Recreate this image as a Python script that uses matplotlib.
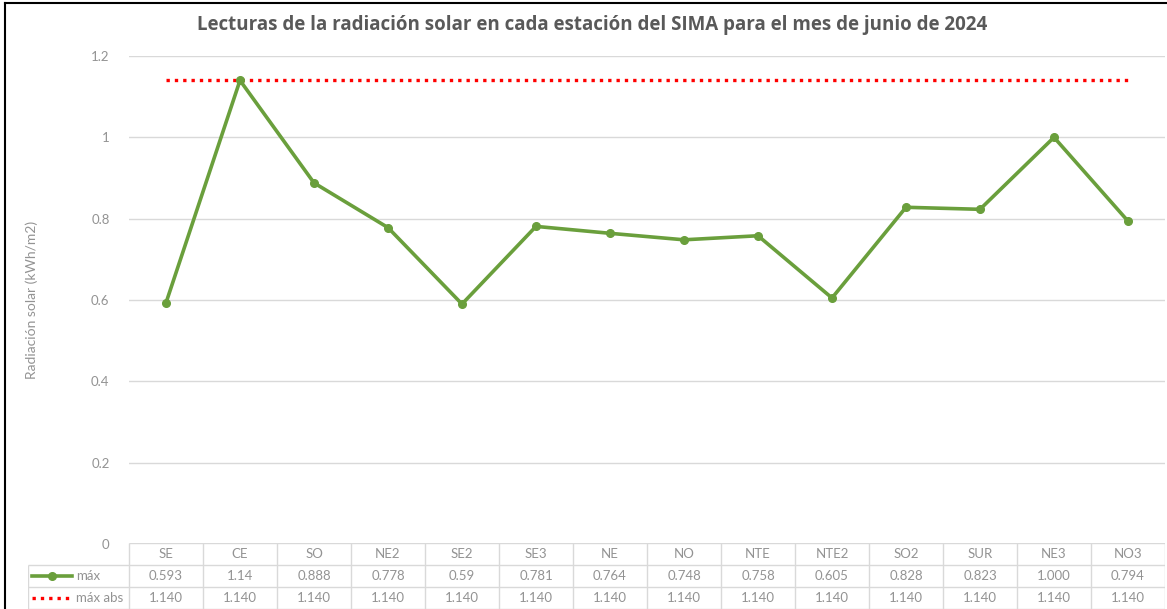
import matplotlib
matplotlib.use("Agg")
import matplotlib.pyplot as plt
from matplotlib.lines import Line2D

categories = ["SE", "CE", "SO", "NE2", "SE2", "SE3", "NE", "NO", "NTE", "NTE2", "SO2", "SUR", "NE3", "NO3"]
max_vals = [0.593, 1.14, 0.888, 0.778, 0.59, 0.781, 0.764, 0.748, 0.758, 0.605, 0.828, 0.823, 1.000, 0.794]
max_labels = ["0.593", "1.14", "0.888", "0.778", "0.59", "0.781", "0.764", "0.748", "0.758", "0.605", "0.828", "0.823", "1.000", "0.794"]
abs_vals = [1.140] * 14
abs_labels = ["1.140"] * 14
yticks = [0, 0.2, 0.4, 0.6, 0.8, 1.0, 1.2]
ytick_labels = ["0", "0.2", "0.4", "0.6", "0.8", "1", "1.2"]

plt.rcParams['font.family'] = ['Lato', 'DejaVu Sans']
W, H = 1167, 609
fig = plt.figure(figsize=(W / 100, H / 100), dpi=100)

GREEN = "#6A9F3C"
RED = "#FF0000"
GRID = "#D9D9D9"
TXT = "#939393"

def fx(px):
    return px / W

def fy(py):
    return 1 - py / H

# main plot
left, right, top, bottom = 129, 1165, 56, 544
ax = fig.add_axes([fx(left), fy(bottom), fx(right - left), fy(top) - fy(bottom)])
x = list(range(len(categories)))
ax.set_xlim(-0.5, len(categories) - 0.5)
ax.set_ylim(0, 1.2)
ax.set_yticks(yticks)
ax.set_yticklabels(ytick_labels)
ax.set_xticks([])
for s in ax.spines.values():
    s.set_visible(False)
ax.grid(axis='y', color=GRID, linewidth=1)
ax.set_axisbelow(True)
ax.tick_params(axis='y', length=0, pad=14, labelcolor=TXT, labelsize=9.5)
ax.plot(x, abs_vals, linestyle=(0, (1, 1.5)), color=RED, linewidth=2.4, zorder=3)
ax.plot(x, max_vals, color=GREEN, linewidth=2.6, marker='o', markersize=5.5, zorder=4, clip_on=False)

fig.text(fx(32), fy(300), "Radiación solar (kWh/m2)", rotation=90, ha='center', va='center',
         color=TXT, fontsize=10)
fig.text(fx(592), fy(25), "Lecturas de la radiación solar en cada estación del SIMA para el mes de junio de 2024",
         ha='center', va='center', color="#595959", fontsize=13.5, fontweight='bold',
         family=['Open Sans', 'DejaVu Sans'])

# data table
tleft, ttop, tbot = 28, 544, 610
unit = (right - left) / len(categories)
tax = fig.add_axes([fx(tleft), 0, fx(right - tleft), fy(ttop) - fy(tbot)])
tax.set_xlim(-0.5 - (left - tleft) / unit, len(categories) - 0.5)
tax.set_ylim(0, 3)
tax.axis('off')
x0 = -0.5 - (left - tleft) / unit
xe = len(categories) - 0.5
tax.hlines([3], -0.5, xe, color=GRID, linewidth=1)
tax.hlines([2, 1, 0], x0, xe, color=GRID, linewidth=1)
tax.vlines([x0], 0, 2, color=GRID, linewidth=1)
tax.vlines([i - 0.5 for i in range(len(categories) + 1)], 0, 3, color=GRID, linewidth=1)
for i, c in enumerate(categories):
    tax.text(i, 2.5, c, ha='center', va='center', color=TXT, fontsize=9.5)
    tax.text(i, 1.5, max_labels[i], ha='center', va='center', color=TXT, fontsize=9.5)
    tax.text(i, 0.5, abs_labels[i], ha='center', va='center', color=TXT, fontsize=9.5)
# legend keys
lx0 = x0 + 4 / unit
lx1 = x0 + 44 / unit
tax.plot([lx0, lx1], [1.5, 1.5], color=GREEN, linewidth=2.6)
tax.plot([(lx0 + lx1) / 2], [1.5], marker='o', color=GREEN, markersize=5.5)
tax.plot([lx0, lx1], [0.5, 0.5], linestyle=(0, (1, 1.5)), color=RED, linewidth=2.4)
tax.text(x0 + 48 / unit, 1.5, "máx", ha='left', va='center', color=TXT, fontsize=9.5)
tax.text(x0 + 48 / unit, 0.5, "máx abs", ha='left', va='center', color=TXT, fontsize=9.5)

# outer frame (left and top)
fig.add_artist(Line2D([fx(5), fx(5)], [0, fy(3)], color='black', linewidth=1.5))
fig.add_artist(Line2D([fx(5), 1], [fy(3), fy(3)], color='black', linewidth=1.5))

fig.savefig("out.png", dpi=100)
